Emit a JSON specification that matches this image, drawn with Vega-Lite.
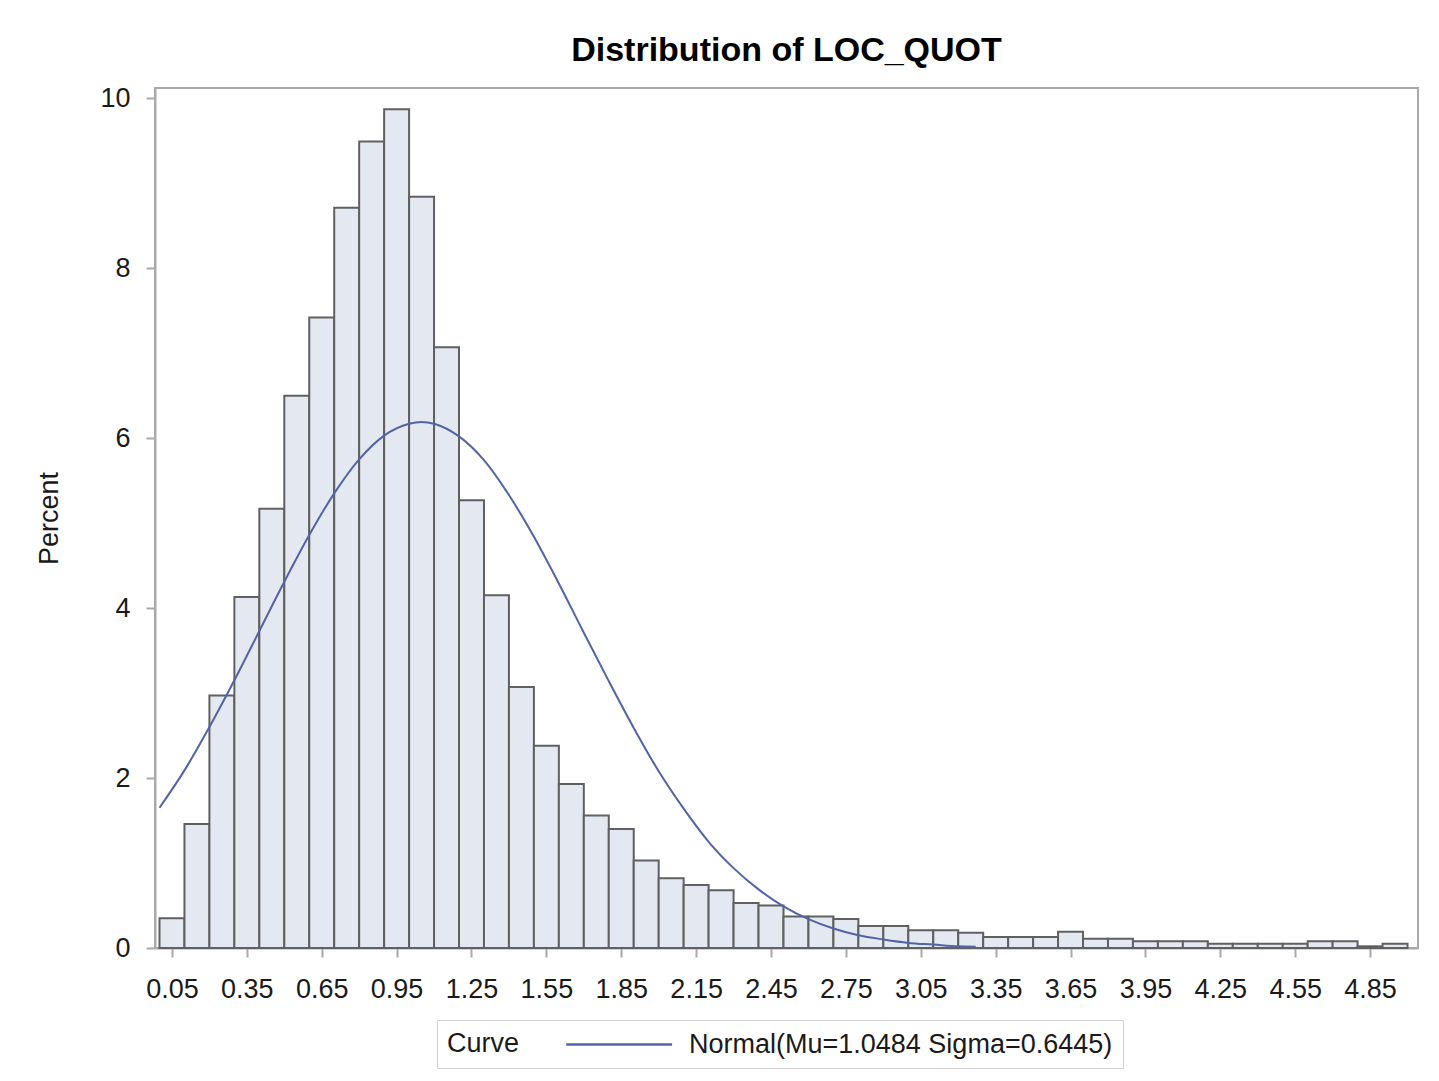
{
  "$schema": "https://vega.github.io/schema/vega-lite/v6.json",
  "width": 1263,
  "height": 860,
  "autosize": "none",
  "padding": {"left": 155, "top": 88, "right": 21, "bottom": 133},
  "background": "white",
  "title": {
    "text": "Distribution of LOC_QUOT",
    "fontSize": 34,
    "fontWeight": "bold",
    "font": "Liberation Sans",
    "color": "#000000",
    "anchor": "middle",
    "baseline": "alphabetic",
    "offset": -11
  },
  "config": {
    "view": {"stroke": "#a9a9a9", "strokeWidth": 2},
    "axis": {
      "labelFont": "Liberation Sans",
      "titleFont": "Liberation Sans",
      "labelFontSize": 27,
      "titleFontSize": 27,
      "labelColor": "#1a1a1a",
      "titleColor": "#1a1a1a",
      "titleFontWeight": "normal",
      "domainColor": "#a9a9a9",
      "domainWidth": 2,
      "tickColor": "#a9a9a9",
      "tickWidth": 2,
      "tickSize": 9,
      "grid": false
    }
  },
  "datasets": {
    "bins": [
      {"lo": 0.0, "hi": 0.1, "pct": 0.35},
      {"lo": 0.1, "hi": 0.2, "pct": 1.46},
      {"lo": 0.2, "hi": 0.3, "pct": 2.97},
      {"lo": 0.3, "hi": 0.4, "pct": 4.13},
      {"lo": 0.4, "hi": 0.5, "pct": 5.17},
      {"lo": 0.5, "hi": 0.6, "pct": 6.5},
      {"lo": 0.6, "hi": 0.7, "pct": 7.42},
      {"lo": 0.7, "hi": 0.8, "pct": 8.71},
      {"lo": 0.8, "hi": 0.9, "pct": 9.49},
      {"lo": 0.9, "hi": 1.0, "pct": 9.87},
      {"lo": 1.0, "hi": 1.1, "pct": 8.84},
      {"lo": 1.1, "hi": 1.2, "pct": 7.07},
      {"lo": 1.2, "hi": 1.3, "pct": 5.27},
      {"lo": 1.3, "hi": 1.4, "pct": 4.15},
      {"lo": 1.4, "hi": 1.5, "pct": 3.07},
      {"lo": 1.5, "hi": 1.6, "pct": 2.38},
      {"lo": 1.6, "hi": 1.7, "pct": 1.93},
      {"lo": 1.7, "hi": 1.8, "pct": 1.56},
      {"lo": 1.8, "hi": 1.9, "pct": 1.4},
      {"lo": 1.9, "hi": 2.0, "pct": 1.03},
      {"lo": 2.0, "hi": 2.1, "pct": 0.82},
      {"lo": 2.1, "hi": 2.2, "pct": 0.74},
      {"lo": 2.2, "hi": 2.3, "pct": 0.68},
      {"lo": 2.3, "hi": 2.4, "pct": 0.53},
      {"lo": 2.4, "hi": 2.5, "pct": 0.5},
      {"lo": 2.5, "hi": 2.6, "pct": 0.37},
      {"lo": 2.6, "hi": 2.7, "pct": 0.37},
      {"lo": 2.7, "hi": 2.8, "pct": 0.34},
      {"lo": 2.8, "hi": 2.9, "pct": 0.26},
      {"lo": 2.9, "hi": 3.0, "pct": 0.26},
      {"lo": 3.0, "hi": 3.1, "pct": 0.21},
      {"lo": 3.1, "hi": 3.2, "pct": 0.21},
      {"lo": 3.2, "hi": 3.3, "pct": 0.18},
      {"lo": 3.3, "hi": 3.4, "pct": 0.13},
      {"lo": 3.4, "hi": 3.5, "pct": 0.13},
      {"lo": 3.5, "hi": 3.6, "pct": 0.13},
      {"lo": 3.6, "hi": 3.7, "pct": 0.19},
      {"lo": 3.7, "hi": 3.8, "pct": 0.11},
      {"lo": 3.8, "hi": 3.9, "pct": 0.11},
      {"lo": 3.9, "hi": 4.0, "pct": 0.08},
      {"lo": 4.0, "hi": 4.1, "pct": 0.08},
      {"lo": 4.1, "hi": 4.2, "pct": 0.08},
      {"lo": 4.2, "hi": 4.3, "pct": 0.05},
      {"lo": 4.3, "hi": 4.4, "pct": 0.05},
      {"lo": 4.4, "hi": 4.5, "pct": 0.05},
      {"lo": 4.5, "hi": 4.6, "pct": 0.05},
      {"lo": 4.6, "hi": 4.7, "pct": 0.08},
      {"lo": 4.7, "hi": 4.8, "pct": 0.08},
      {"lo": 4.8, "hi": 4.9, "pct": 0.02},
      {"lo": 4.9, "hi": 5.0, "pct": 0.05}
    ],
    "curve": [
      {"x": 0.0, "pct": 1.65, "series": "Normal(Mu=1.0484 Sigma=0.6445)"},
      {"x": 0.1, "pct": 2.09, "series": "Normal(Mu=1.0484 Sigma=0.6445)"},
      {"x": 0.2, "pct": 2.6, "series": "Normal(Mu=1.0484 Sigma=0.6445)"},
      {"x": 0.3, "pct": 3.15, "series": "Normal(Mu=1.0484 Sigma=0.6445)"},
      {"x": 0.4, "pct": 3.73, "series": "Normal(Mu=1.0484 Sigma=0.6445)"},
      {"x": 0.5, "pct": 4.31, "series": "Normal(Mu=1.0484 Sigma=0.6445)"},
      {"x": 0.6, "pct": 4.86, "series": "Normal(Mu=1.0484 Sigma=0.6445)"},
      {"x": 0.7, "pct": 5.35, "series": "Normal(Mu=1.0484 Sigma=0.6445)"},
      {"x": 0.8, "pct": 5.75, "series": "Normal(Mu=1.0484 Sigma=0.6445)"},
      {"x": 0.9, "pct": 6.03, "series": "Normal(Mu=1.0484 Sigma=0.6445)"},
      {"x": 1.0, "pct": 6.17, "series": "Normal(Mu=1.0484 Sigma=0.6445)"},
      {"x": 1.05, "pct": 6.19, "series": "Normal(Mu=1.0484 Sigma=0.6445)"},
      {"x": 1.1, "pct": 6.17, "series": "Normal(Mu=1.0484 Sigma=0.6445)"},
      {"x": 1.2, "pct": 6.02, "series": "Normal(Mu=1.0484 Sigma=0.6445)"},
      {"x": 1.3, "pct": 5.74, "series": "Normal(Mu=1.0484 Sigma=0.6445)"},
      {"x": 1.4, "pct": 5.33, "series": "Normal(Mu=1.0484 Sigma=0.6445)"},
      {"x": 1.5, "pct": 4.84, "series": "Normal(Mu=1.0484 Sigma=0.6445)"},
      {"x": 1.6, "pct": 4.29, "series": "Normal(Mu=1.0484 Sigma=0.6445)"},
      {"x": 1.7, "pct": 3.71, "series": "Normal(Mu=1.0484 Sigma=0.6445)"},
      {"x": 1.8, "pct": 3.14, "series": "Normal(Mu=1.0484 Sigma=0.6445)"},
      {"x": 1.9, "pct": 2.59, "series": "Normal(Mu=1.0484 Sigma=0.6445)"},
      {"x": 2.0, "pct": 2.08, "series": "Normal(Mu=1.0484 Sigma=0.6445)"},
      {"x": 2.1, "pct": 1.64, "series": "Normal(Mu=1.0484 Sigma=0.6445)"},
      {"x": 2.2, "pct": 1.25, "series": "Normal(Mu=1.0484 Sigma=0.6445)"},
      {"x": 2.3, "pct": 0.94, "series": "Normal(Mu=1.0484 Sigma=0.6445)"},
      {"x": 2.4, "pct": 0.69, "series": "Normal(Mu=1.0484 Sigma=0.6445)"},
      {"x": 2.5, "pct": 0.49, "series": "Normal(Mu=1.0484 Sigma=0.6445)"},
      {"x": 2.6, "pct": 0.34, "series": "Normal(Mu=1.0484 Sigma=0.6445)"},
      {"x": 2.7, "pct": 0.23, "series": "Normal(Mu=1.0484 Sigma=0.6445)"},
      {"x": 2.8, "pct": 0.15, "series": "Normal(Mu=1.0484 Sigma=0.6445)"},
      {"x": 2.9, "pct": 0.1, "series": "Normal(Mu=1.0484 Sigma=0.6445)"},
      {"x": 3.0, "pct": 0.06, "series": "Normal(Mu=1.0484 Sigma=0.6445)"},
      {"x": 3.1, "pct": 0.04, "series": "Normal(Mu=1.0484 Sigma=0.6445)"},
      {"x": 3.2, "pct": 0.02, "series": "Normal(Mu=1.0484 Sigma=0.6445)"},
      {"x": 3.27, "pct": 0.015, "series": "Normal(Mu=1.0484 Sigma=0.6445)"}
    ]
  },
  "layer": [
    {
      "data": {"name": "bins"},
      "mark": {"type": "rect", "fill": "#e3e8f1", "stroke": "#606060", "strokeWidth": 2},
      "encoding": {
        "x": {
          "field": "lo",
          "type": "quantitative",
          "scale": {"domain": [-0.018, 5.042], "nice": false, "zero": false},
          "axis": {
            "title": null,
            "values": [0.05, 0.35, 0.65, 0.95, 1.25, 1.55, 1.85, 2.15, 2.45, 2.75, 3.05, 3.35, 3.65, 3.95, 4.25, 4.55, 4.85],
            "format": ".2f",
            "labelPadding": 19,
            "domain": true,
            "labelFlush": false
          }
        },
        "x2": {"field": "hi"},
        "y": {
          "field": "pct",
          "type": "quantitative",
          "scale": {"domain": [0, 10.12], "nice": false},
          "axis": {
            "title": "Percent",
            "values": [0, 2, 4, 6, 8, 10],
            "format": "d",
            "labelPadding": 16,
            "titlePadding": 36,
            "labelFlush": false
          }
        },
        "y2": {"datum": 0}
      }
    },
    {
      "data": {"name": "curve"},
      "mark": {"type": "line", "strokeWidth": 2, "interpolate": "monotone"},
      "encoding": {
        "x": {"field": "x", "type": "quantitative"},
        "y": {"field": "pct", "type": "quantitative"},
        "color": {
          "field": "series",
          "type": "nominal",
          "scale": {"range": ["#5064a6"]},
          "legend": {
            "title": "Curve",
            "orient": "none",
            "legendX": 282,
            "legendY": 932,
            "direction": "horizontal",
            "titleOrient": "left",
            "titleFont": "Liberation Sans",
            "titleFontSize": 27,
            "titleFontWeight": "normal",
            "titleColor": "#1a1a1a",
            "titlePadding": 45,
            "titleBaseline": "middle",
            "titleLimit": 1000,
            "labelFont": "Liberation Sans",
            "labelFontSize": 27,
            "labelColor": "#1a1a1a",
            "labelLimit": 1000,
            "labelOffset": 95,
            "symbolType": "M-1,0H7",
            "symbolSize": 700,
            "symbolStrokeWidth": 2.5,
            "strokeColor": "#cfcfcf",
            "fillColor": "white",
            "padding": 10
          }
        }
      }
    }
  ]
}
